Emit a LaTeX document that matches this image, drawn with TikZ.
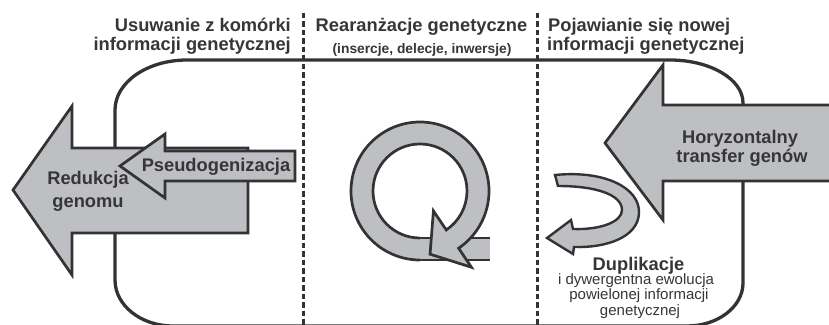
\documentclass[tikz,border=0pt]{standalone}
\usepackage{fontspec}
\setmainfont{Liberation Sans}
\usetikzlibrary{calc}
\definecolor{ink}{HTML}{333333}
\definecolor{txt}{HTML}{363636}
\definecolor{arrowfill}{RGB}{190,191,194}
\begin{document}
\begin{tikzpicture}[x=1pt,y=1pt,
  outline/.style={draw=ink, line width=3.3pt},
  divider/.style={draw=ink, line width=3pt, dash pattern=on 5.5pt off 3pt},
  arrowshape/.style={fill=arrowfill, draw=ink, line width=2.7pt, line join=miter, miter limit=4},
  lbl/.style={inner sep=0pt, text=txt, font=\bfseries\fontsize{18.3}{20}\selectfont},
  sublbl/.style={inner sep=0pt, text=txt, font=\bfseries\fontsize{13.8}{16}\selectfont},
  note/.style={inner sep=0pt, text=txt, font=\fontsize{15}{16}\selectfont},
]
\useasboundingbox (0,0) rectangle (829,324);
\clip (0,0) rectangle (829,324);

% rounded outline
\draw[outline] (187,264) -- (670,264)
  arc[start angle=90,end angle=0,x radius=73,y radius=43] -- (743,41)
  arc[start angle=0,end angle=-90,x radius=56,y radius=43] -- (173,-2)
  arc[start angle=270,end angle=180,x radius=58,y radius=46] -- (115,214)
  arc[start angle=180,end angle=90,x radius=72,y radius=50] -- cycle;

% dashed dividers
\coordinate (d1t) at (303,311); \coordinate (d1b) at (303,-2);
\coordinate (d2t) at (537,311); \coordinate (d2b) at (537,-2);
\draw[divider] (d1t) -- (d1b);
\draw[divider] (d2t) -- (d2b);

% left: genome reduction arrow
\draw[arrowshape] (13,134) -- (72,218) -- (72,176) -- (248,176) -- (248,91) -- (72,91) -- (72,49) -- cycle;
% pseudogenization arrow
\draw[arrowshape] (120,158) -- (165,190) -- (165,173) -- (295,173) -- (295,143) -- (165,143) -- (165,126) -- cycle;

% right: horizontal gene transfer arrow
\draw[arrowshape] (605,181) -- (663,259) -- (663,219) -- (834,219) -- (834,143) -- (663,143) -- (663,104) -- cycle;

% middle: circular rearrangement arrow
\coordinate (qc) at (420,133);
\fill[arrowfill] (420,64) rectangle (490,86);
\draw[ink, line width=2.7pt] (420,86) -- (490,86) (420,64) -- (490,64);
\draw[arrowshape] (420,86) arc[start angle=270,end angle=-56,radius=47]
  -- ($(qc)+(-56:24)$) -- ($(qc)+(-56:58)+(-146:27)$) -- ($(qc)+(-56:92)$)
  -- ($(qc)+(-56:69)$) arc[start angle=-56,end angle=270,radius=69];

% duplication U-turn arrow
\draw[arrowshape, line width=2.4pt] (555,149) .. controls (605,154) and (640,136) .. (639,111)
  .. controls (638,86) and (605,76) .. (574,77)
  -- (573,70) -- (547,86) -- (571,104) -- (573,95)
  .. controls (600,94) and (622,102) .. (622,114)
  .. controls (622,129) and (597,138) .. (558,138) -- cycle;

% headings
\node[lbl, anchor=base east] (h1a) at (291,292) {Usuwanie z komórki};
\node[lbl, anchor=base east] (h1b) at (291,273) {informacji genetycznej};
\node[lbl, anchor=base] (h2a) at (421.5,292) {Rearanżacje genetyczne};
\node[sublbl, anchor=base] (h2b) at (422,270) {(insercje, delecje, inwersje)};
\node[lbl, anchor=base west] (h3a) at (548,292) {Pojawianie się nowej};
\node[lbl, anchor=base west] (h3b) at (547,273) {informacji genetycznej};

% labels
\node[lbl, anchor=base] (red1) at (88,139) {Redukcja};
\node[lbl, anchor=base] (red2) at (88,117) {genomu};
\node[lbl, anchor=base] (pse) at (216,152) {Pseudogenizacja};
\node[lbl, anchor=base] (hor1) at (740,180) {Horyzontalny};
\node[lbl, anchor=base] (hor2) at (742,161) {transfer genów};
\node[lbl, anchor=base] (dup) at (638.5,54) {Duplikacje};
\node[note, anchor=base] (n1) at (636,40) {i dywergentna ewolucja};
\node[note, anchor=base] (n2) at (639,25) {powielonej informacji};
\node[note, anchor=base] (n3) at (640,9) {genetycznej};
\end{tikzpicture}
\end{document}
